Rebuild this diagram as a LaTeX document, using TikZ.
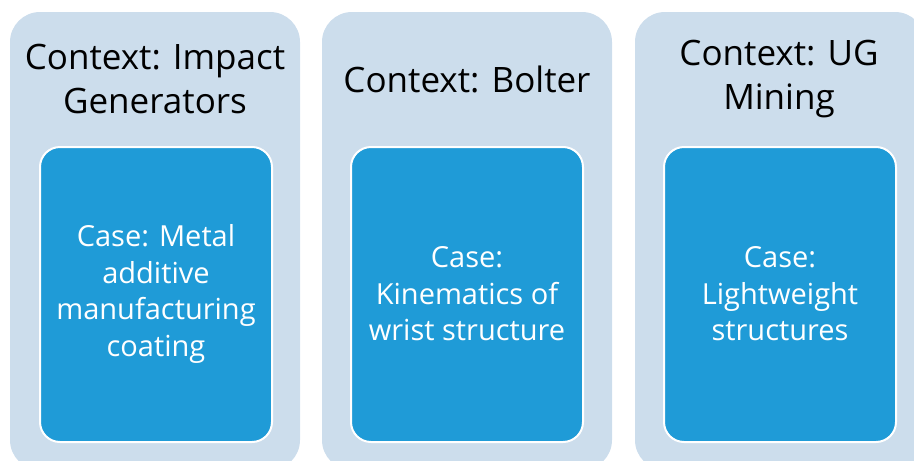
\documentclass[tikz,border=0pt]{standalone}
\usepackage{fontspec}
\setmainfont{Open Sans}
\definecolor{outerc}{HTML}{CCDDEC}
\definecolor{innerc}{HTML}{1F9BD7}
\begin{document}
\begin{tikzpicture}[x=1pt,y=-1pt,
  outerbox/.style={fill=outerc,rounded corners=30pt},
  innerbox/.style={fill=innerc,draw=white,line width=2pt,rounded corners=20pt},
  head/.style={align=center,font=\fontsize{35}{44}\selectfont,text=black,inner sep=0pt},
  body/.style={align=center,font=\fontsize{29}{36.5}\selectfont,text=white,inner sep=0pt}]
\useasboundingbox (0,0) rectangle (914,461);
\clip (0,0) rectangle (914,461);
\fill[outerbox] (10,12) rectangle (300,470);
\fill[outerbox] (322,12) rectangle (612,470);
\fill[outerbox] (635,12) rectangle (925,470);
\draw[innerbox] (40,147) rectangle (272,442);
\draw[innerbox] (351,147) rectangle (583,442);
\draw[innerbox] (664,147) rectangle (896,442);
\node[head] (h1) at (155,79) {Context: Impact\\Generators};
\node[head] (h2) at (467,79) {Context: Bolter};
\node[head] (h3) at (779,79) {Context: UG\\Mining};
\node[body] (b1) at (156,294) {Case: Metal\\additive\\manufacturing\\coating};
\node[body] (b2) at (467,294) {Case:\\Kinematics of\\wrist structure};
\node[body] (b3) at (780,294) {Case:\\Lightweight\\structures};
\end{tikzpicture}
\end{document}
